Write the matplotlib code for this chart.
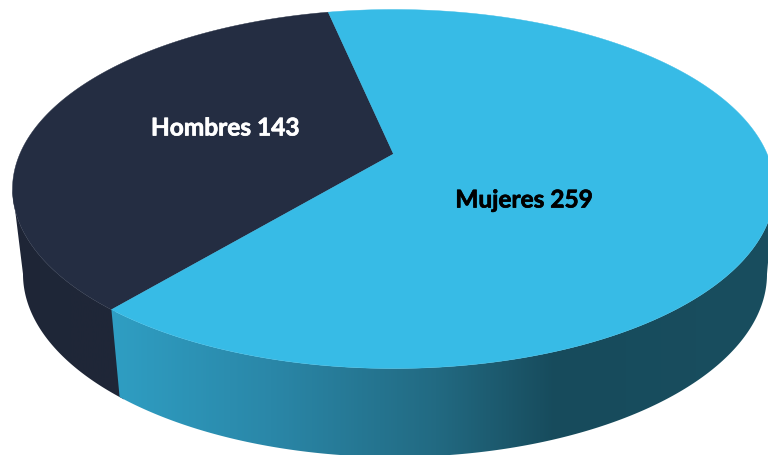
import numpy as np
import matplotlib
matplotlib.use("Agg")
from matplotlib import pyplot as plt
from matplotlib import patheffects as pe
from matplotlib.colors import LinearSegmentedColormap
from matplotlib.patches import Polygon

categorias = ["Hombres", "Mujeres"]
valores = [143, 259]

# geometria del disco (pixel)
cx, cy, rx, ry = 393.5, 190, 381, 179.5
cx2, cy2, rx2, ry2 = 395, 275, 372, 183
persp = 0.195
inicio = 102

def proyecta(ang):
    # punto del circulo con perspectiva: el centro queda desplazado hacia arriba
    t = np.radians(ang)
    x, y = np.cos(t), np.sin(t)
    d = 1 + persp * y
    return x * np.sqrt(1 - persp**2) / d, (y + persp) / d

def elipse(ang, cx, cy, rx, ry):
    t = np.radians(ang)
    return np.column_stack((cx + rx * np.cos(t), cy - ry * np.sin(t)))

def cara(a, b):
    xs, ys = proyecta(np.linspace(a, b, 300))
    return np.column_stack((cx + rx * xs, cy - ry * ys))

def pared(a, b):
    arriba = elipse(np.linspace(a, b, 200), cx, cy, rx, ry)
    abajo = elipse(np.linspace(b, a, 200), cx2, cy2, rx2, ry2)
    return np.vstack((arriba, abajo))

fig = plt.figure(figsize=(7.68, 4.56), dpi=100)
ax = fig.add_axes([0, 0, 1, 1])

fin = inicio + 360 * valores[0] / sum(valores)
xf, yf = proyecta(fin)
borde = np.degrees(np.arctan2(yf, xf)) % 360

# paredes laterales con degradado
cm_osc = LinearSegmentedColormap.from_list("osc", ["#1e2536", "#1f2738", "#1f2637"])
cm_azul = LinearSegmentedColormap.from_list("azul", [
    (0.0, "#2f9fc4"), (0.25, "#2a87a8"), (0.5, "#226a82"), (0.68, "#174b5c"), (1.0, "#194e5f")])
grad = np.linspace(0, 1, 256).reshape(1, -1)

pol = Polygon(pared(180, borde + 1), closed=True, fc="none", ec="none")
ax.add_patch(pol)
im = ax.imshow(grad, cmap=cm_osc, extent=(10, 130, 456, 0), aspect="auto", zorder=1)
im.set_clip_path(pol)

pol = Polygon(pared(borde, 360), closed=True, fc="none", ec="none")
ax.add_patch(pol)
im = ax.imshow(grad, cmap=cm_azul, extent=(105, 768, 456, 0), aspect="auto", zorder=1)
im.set_clip_path(pol)

ax.set_xlim(0, 768)
ax.set_ylim(456, 0)
ax.axis("off")

# caras superiores
apice = [cx, cy - ry * persp]
ax.add_patch(Polygon(np.vstack(([apice], cara(inicio, fin))), closed=True, fc="#242d42", ec="#242d42", lw=0.3, zorder=2))
ax.add_patch(Polygon(np.vstack(([apice], cara(fin, inicio + 360))), closed=True, fc="#37bbe6", ec="#37bbe6", lw=0.3, zorder=2))

t1 = ax.text(225, 129, f"{categorias[0]} {valores[0]}", color="white", family="Lato", weight="bold",
        fontsize=17.6, ha="center", va="center", zorder=3)
t2 = ax.text(524, 201, f"{categorias[1]} {valores[1]}", color="black", family="Lato", weight="bold",
        fontsize=17.6, ha="center", va="center", zorder=3)
t1.set_path_effects([pe.withStroke(linewidth=0.5, foreground="white")])
t2.set_path_effects([pe.withStroke(linewidth=0.5, foreground="black")])

fig.savefig("out.png", dpi=100)
